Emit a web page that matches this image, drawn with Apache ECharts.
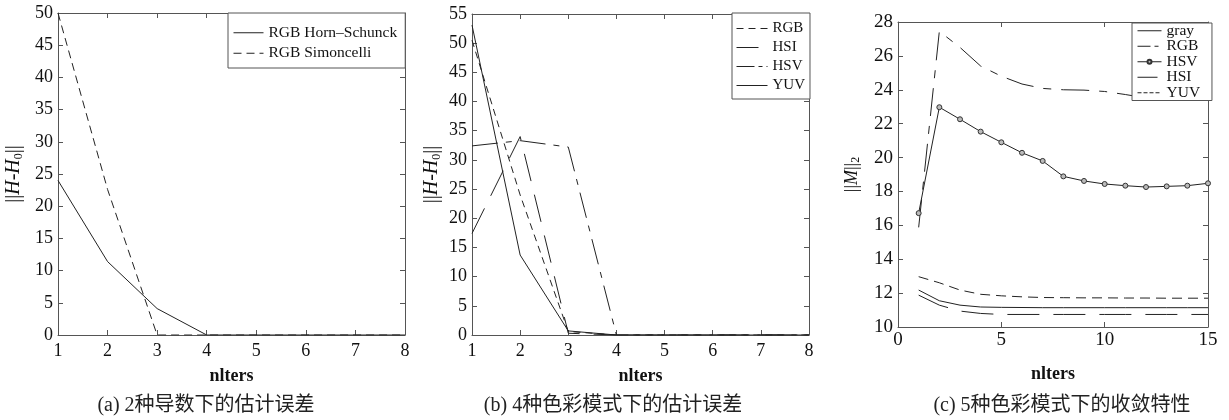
<!DOCTYPE html>
<html>
<head>
<meta charset="utf-8">
<title>nIters</title>
<script src="https://cdn.jsdelivr.net/npm/echarts@6/dist/echarts.min.js"></script>
<style>
html,body{margin:0;padding:0;background:#fff;}
#main{width:1229px;height:420px;}
</style>
</head>
<body>
<div id="main"></div>
<script>
// (a) 2种导数
var itersA = [1, 2, 3, 4, 5, 6, 7, 8];
var hornSchunck = [24, 11.4, 4.1, 0, 0, 0, 0, 0];
var simoncelli = [50, 22.6, 0, 0, 0, 0, 0, 0];

// (b) 4种色彩模式 估计误差
var itersB = [1, 2, 3, 4, 5, 6, 7, 8];
var rgbB = [50.5, 24, 0.6, 0, 0, 0, 0, 0];
var hsiB = [17.4, 34, 0.3, 0, 0, 0, 0, 0];
var hsvB = [32.4, 33.3, 32.2, 0, 0, 0, 0, 0];
var yuvB = [53.1, 13.7, 0.7, 0, 0, 0, 0, 0];

// (c) 5种色彩模式 收敛特性
var itersC = [1, 2, 3, 4, 5, 6, 7, 8, 9, 10, 11, 12, 13, 14, 15];
var grayC = [12.18, 11.55, 11.29, 11.18, 11.16, 11.15, 11.14, 11.14, 11.14, 11.14, 11.14, 11.14, 11.14, 11.14, 11.14];
var rgbC = [15.88, 27.45, 26.5, 25.4, 24.8, 24.34, 24.08, 24.0, 23.98, 23.9, 23.72, 23.52, 23.46, 23.45, 23.45];
var hsvC = [16.72, 22.97, 22.26, 21.53, 20.9, 20.28, 19.8, 18.89, 18.62, 18.44, 18.34, 18.26, 18.3, 18.34, 18.48];
var hsiC = [11.88, 11.29, 10.94, 10.8, 10.74, 10.74, 10.74, 10.74, 10.74, 10.74, 10.74, 10.74, 10.74, 10.74, 10.74];
var yuvC = [12.97, 12.61, 12.18, 11.93, 11.84, 11.78, 11.74, 11.73, 11.72, 11.72, 11.71, 11.71, 11.7, 11.7, 11.7];

var serif = "'Liberation Serif', 'Noto Sans CJK SC', serif";
var axisColor = '#555';
var lineColor = '#222';

function pairs(xs, ys) {
	return xs.map(function (x, i) { return [x, ys[i]]; });
}

var xAxes = [], yAxes = [];
function addAxes(grid, xmin, xmax, xint, ymin, ymax, yint, opt) {
	var common = {
		gridIndex: grid,
		type: 'value',
		axisLine: { show: true, onZero: false, lineStyle: { color: axisColor, width: 1 } },
		axisTick: { show: true, inside: true, length: 5, lineStyle: { color: axisColor } },
		splitLine: { show: false }
	};
	var nf = opt.nameFs;
	xAxes.push(Object.assign({}, common, {
		position: 'bottom', min: xmin, max: xmax, interval: xint,
		axisLabel: { color: '#111', fontFamily: serif, fontSize: opt.fs, margin: opt.xMargin },
		name: 'nlters', nameLocation: 'middle', nameGap: opt.xNameGap,
		nameTextStyle: { color: '#111', fontFamily: serif, fontSize: 18, fontWeight: 'bold' }
	}));
	xAxes.push(Object.assign({}, common, {
		position: 'top', min: xmin, max: xmax, interval: xint,
		axisLabel: { show: false }
	}));
	yAxes.push(Object.assign({}, common, {
		position: 'left', min: ymin, max: ymax, interval: yint,
		axisLabel: { color: '#111', fontFamily: serif, fontSize: opt.fs, margin: 5 },
		name: opt.yName, nameLocation: 'middle', nameGap: opt.yNameGap, nameRotate: 90,
		nameTextStyle: {
			color: '#111', fontFamily: serif, fontSize: nf,
			rich: {
				n: { fontFamily: serif, fontSize: nf, color: '#111', lineHeight: nf + 2 },
				i: { fontFamily: serif, fontSize: nf, fontStyle: 'italic', color: '#111', lineHeight: nf + 2 },
				s: { fontFamily: serif, fontSize: 12, color: '#111', verticalAlign: 'bottom', lineHeight: 12 }
			}
		}
	}));
	yAxes.push(Object.assign({}, common, {
		position: 'right', min: ymin, max: ymax, interval: yint,
		axisLabel: { show: false }
	}));
}

addAxes(0, 1, 8, 1, 0, 50, 5, { fs: 18, nameFs: 20, xMargin: 7, xNameGap: 32, yNameGap: 33, yName: '{n|||}{i|H}{n|-}{i|H}{s|0}{n|||}' });
addAxes(1, 1, 8, 1, 0, 55, 5, { fs: 18, nameFs: 20, xMargin: 7, xNameGap: 32, yNameGap: 29, yName: '{n|||}{i|H}{n|-}{i|H}{s|0}{n|||}' });
addAxes(2, 0, 15, 5, 10, 28, 2, { fs: 19, nameFs: 18, xMargin: 4, xNameGap: 38, yNameGap: 36, yName: '{n|||}{i|M}{n|||}{s|2}' });

function line(name, grid, xs, ys, dash, extra) {
	return Object.assign({
		name: name,
		type: 'line',
		xAxisIndex: grid * 2,
		yAxisIndex: grid * 2,
		data: pairs(xs, ys),
		symbol: 'none',
		silent: true,
		color: lineColor,
		lineStyle: { color: lineColor, width: 1, type: dash }
	}, extra || {});
}

// legend entries: line sample only, no marker; optional shorter dash for the sample
function plain(name, dash) {
	var item = { name: name, itemStyle: { opacity: 0 } };
	if (dash) item.lineStyle = { type: dash, width: 1 };
	return item;
}

var legendBase = {
	orient: 'vertical',
	backgroundColor: '#fff',
	borderColor: axisColor,
	borderWidth: 1,
	borderRadius: 0,
	itemHeight: 10,
	selectedMode: false,
	lineStyle: { width: 1 },
	textStyle: { fontFamily: serif, fontSize: 15, color: '#111' }
};

var option = {
	animation: false,
	backgroundColor: '#fff',
	grid: [
		{ left: 58, top: 13, width: 347, height: 322 },
		{ left: 472, top: 14, width: 337, height: 321 },
		{ left: 898, top: 22, width: 310, height: 305 }
	],
	xAxis: xAxes,
	yAxis: yAxes,
	legend: [
		Object.assign({}, legendBase, {
			left: 228, top: 13, padding: [12, 8, 7, 5], itemWidth: 30, itemGap: 5,
			textStyle: { fontFamily: serif, fontSize: 15.5, color: '#111' },
			data: [plain('RGB Horn–Schunck'), plain('RGB Simoncelli')]
		}),
		Object.assign({}, legendBase, {
			left: 732, top: 13, padding: [8, 5, 6, 4], itemWidth: 31, itemGap: 4,
			data: [plain('RGB'), plain('HSI', [22, 12]), plain('HSV', [18, 4, 4, 4]), plain('YUV')]
		}),
		Object.assign({}, legendBase, {
			left: 1132, top: 23, padding: [0, 8, 0, 5], itemWidth: 24, itemHeight: 5, itemGap: 0,
			textStyle: { fontFamily: serif, fontSize: 15.5, color: '#111', lineHeight: 14.5 },
			data: [plain('gray '), plain('RGB ', [13, 4, 4, 4]), { name: 'HSV ' }, plain('HSI ', [20, 6]), plain('YUV ', [4, 2])]
		})
	],
	series: [
		line('RGB Horn–Schunck', 0, itersA, hornSchunck, 'solid'),
		line('RGB Simoncelli', 0, itersA, simoncelli, [8, 5]),

		line('RGB', 1, itersB, rgbB, [7, 5]),
		line('HSI', 1, itersB, hsiB, [28, 14]),
		line('HSV', 1, itersB, hsvB, [26, 8, 6, 8]),
		line('YUV', 1, itersB, yuvB, 'solid'),

		line('gray ', 2, itersC, grayC, 'solid'),
		line('RGB ', 2, itersC, rgbC, [28, 10, 8, 10]),
		line('HSV ', 2, itersC, hsvC, 'solid', {
			symbol: 'circle', symbolSize: 5, showSymbol: true,
			itemStyle: { color: '#bbb', borderColor: '#333', borderWidth: 1 }
		}),
		line('HSI ', 2, itersC, hsiC, [32, 14]),
		line('YUV ', 2, itersC, yuvC, [10, 6])
	],
	graphic: [
		{ type: 'text', x: 206, y: 406, style: { text: '(a) 2种导数下的估计误差', font: '20px ' + serif, fill: '#222', align: 'center', verticalAlign: 'middle' } },
		{ type: 'text', x: 613, y: 406, style: { text: '(b) 4种色彩模式下的估计误差', font: '20px ' + serif, fill: '#222', align: 'center', verticalAlign: 'middle' } },
		{ type: 'text', x: 1062, y: 406, style: { text: '(c) 5种色彩模式下的收敛特性', font: '20px ' + serif, fill: '#222', align: 'center', verticalAlign: 'middle' } }
	]
};

var chart = echarts.init(document.getElementById('main'));
chart.setOption(option);
</script>
</body>
</html>
